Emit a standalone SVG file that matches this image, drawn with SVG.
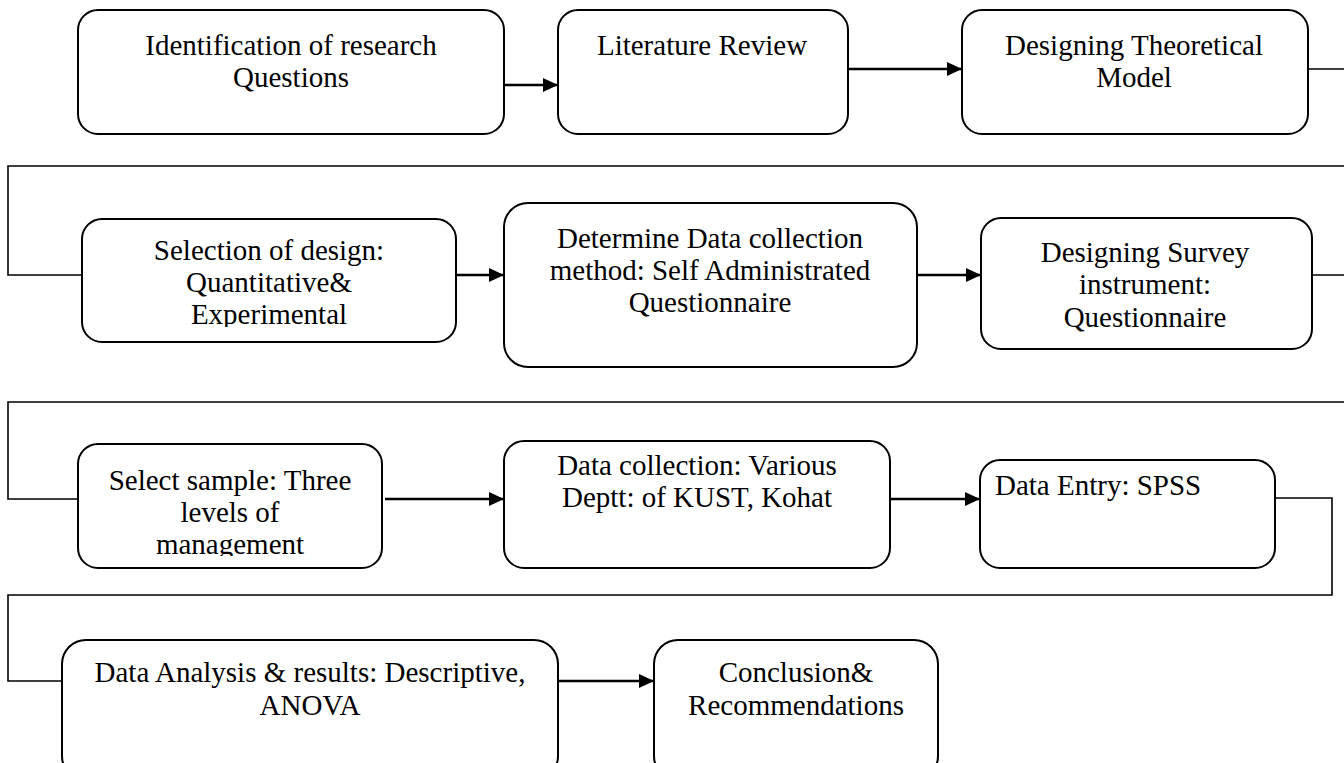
<svg xmlns="http://www.w3.org/2000/svg" width="1344" height="763" viewBox="0 0 1344 763">
<defs>
<style>
.box{fill:#fff;stroke:#000;stroke-width:2}
.t{font-family:"Liberation Serif","Times New Roman",serif;font-size:29px;fill:#000;text-anchor:middle}
.arr{fill:none;stroke:#000;stroke-width:2.6}
.wrap{fill:none;stroke:#000;stroke-width:1.6}
</style>
<marker id="ah" markerUnits="userSpaceOnUse" markerWidth="16" markerHeight="16" refX="15" refY="7" orient="auto">
<path d="M0,0 L15,7 L0,14 Z" fill="#000"/>
</marker>
<clipPath id="c4"><rect x="82" y="219" width="374" height="108"/></clipPath>
<clipPath id="c7"><rect x="78" y="444" width="304" height="112"/></clipPath>
</defs>
<rect width="1344" height="763" fill="#fff"/>
<g id="connectors">
<line class="arr" x1="504" y1="85" x2="558" y2="85" marker-end="url(#ah)"/>
<line class="arr" x1="848" y1="69" x2="962" y2="69" marker-end="url(#ah)"/>
<path class="wrap" d="M1308,69 H1350 V166 H8 V275 H82"/>
<line class="arr" x1="456" y1="275" x2="504" y2="275" marker-end="url(#ah)"/>
<line class="arr" x1="917" y1="275" x2="981" y2="275" marker-end="url(#ah)"/>
<path class="wrap" d="M1312,275 H1350 V402 H8 V499 H78"/>
<line class="arr" x1="385" y1="499" x2="504" y2="499" marker-end="url(#ah)"/>
<line class="arr" x1="890" y1="499" x2="980" y2="499" marker-end="url(#ah)"/>
<path class="wrap" d="M1275,498 H1332 V595 H8 V681 H62"/>
<line class="arr" x1="558" y1="681" x2="654" y2="681" marker-end="url(#ah)"/>
</g>
<g id="n1"><rect class="box" x="78" y="10" width="426" height="124" rx="20"/>
<text class="t" x="291" y="55">Identification of research</text><text class="t" x="291" y="87">Questions</text></g>
<g id="n2"><rect class="box" x="558" y="10" width="290" height="124" rx="20"/>
<text class="t" x="702" y="55">Literature Review</text></g>
<g id="n3"><rect class="box" x="962" y="10" width="346" height="124" rx="20"/>
<text class="t" x="1134" y="55">Designing Theoretical</text><text class="t" x="1134" y="87">Model</text></g>
<g id="n4"><rect class="box" x="82" y="219" width="374" height="123" rx="20"/>
<g clip-path="url(#c4)"><text class="t" x="269" y="260">Selection of design:</text><text class="t" x="269" y="292">Quantitative&amp;</text><text class="t" x="269" y="324">Experimental</text></g></g>
<g id="n5"><rect class="box" x="504" y="203" width="413" height="164" rx="24"/>
<text class="t" x="710" y="248">Determine Data collection</text><text class="t" x="710" y="280">method: Self Administrated</text><text class="t" x="710" y="312">Questionnaire</text></g>
<g id="n6"><rect class="box" x="981" y="218" width="331" height="131" rx="20"/>
<text class="t" x="1145" y="262">Designing Survey</text><text class="t" x="1145" y="294">instrument:</text><text class="t" x="1145" y="327">Questionnaire</text></g>
<g id="n7"><rect class="box" x="78" y="444" width="304" height="124" rx="20"/>
<g clip-path="url(#c7)"><text class="t" x="230" y="490">Select sample: Three</text><text class="t" x="230" y="522">levels of</text><text class="t" x="230" y="554">management</text></g></g>
<g id="n8"><rect class="box" x="504" y="441" width="386" height="127" rx="20"/>
<text class="t" x="697" y="475">Data collection: Various</text><text class="t" x="697" y="507">Deptt: of KUST, Kohat</text></g>
<g id="n9"><rect class="box" x="980" y="460" width="295" height="108" rx="20"/>
<text class="t" x="995" y="495" style="text-anchor:start">Data Entry: SPSS</text></g>
<g id="n10"><rect class="box" x="62" y="640" width="496" height="140" rx="24"/>
<text class="t" x="310" y="682">Data Analysis &amp; results: Descriptive,</text><text class="t" x="310" y="715">ANOVA</text></g>
<g id="n11"><rect class="box" x="654" y="640" width="284" height="140" rx="24"/>
<text class="t" x="796" y="682">Conclusion&amp;</text><text class="t" x="796" y="715">Recommendations</text></g>
</svg>
